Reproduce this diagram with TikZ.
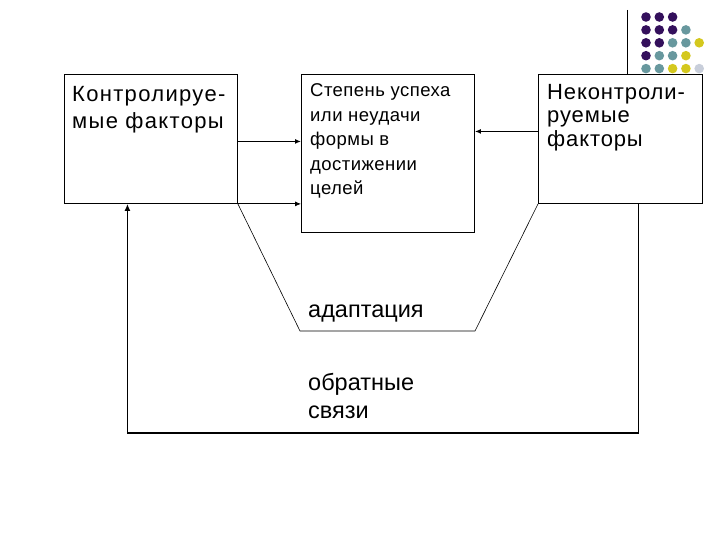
\documentclass[tikz,border=0pt]{standalone}
\usepackage{fontspec}
\setmainfont{Liberation Sans}
\usetikzlibrary{arrows.meta}
\definecolor{dpurp}{RGB}{52,16,92}
\definecolor{dteal}{RGB}{104,152,158}
\definecolor{dyel}{RGB}{212,200,30}
\definecolor{dgrey}{RGB}{200,206,218}
\tikzset{
  boxst/.style={draw=black, line width=0.9pt, inner sep=0, anchor=north west},
  txt/.style={anchor=base west, inner sep=0, text=black},
  arr/.style={line width=1.2pt, -{Latex[length=6pt,width=5pt]}},
  thin arr/.style={line width=0.8pt, -{Latex[length=6pt,width=5pt]}},
  trap/.style={line width=0.6pt},
  fb/.style={line width=1.6pt, -{Latex[length=7pt,width=6pt]}},
  dot/.style={circle, inner sep=0, minimum size=9.6pt},
}
\begin{document}
\begin{tikzpicture}[x=1pt, y=-1pt]
\useasboundingbox (0,0) rectangle (720,540);
% boxes
\node[boxst, minimum width=173pt, minimum height=129pt] (L) at (64,74) {};
\node[boxst, minimum width=173pt, minimum height=158pt] (M) at (301,74) {};
\node[boxst, minimum width=164pt, minimum height=129pt] (R) at (538,74) {};
% texts
\node[txt, font=\fontsize{22}{27}\selectfont\addfontfeature{LetterSpace=6}] (Lt) at (72,102)
  {\vtop{\hbox{Контролируе-}\hbox{мые факторы}}};
\node[txt, font=\fontsize{18.5}{24.5}\selectfont\addfontfeature{LetterSpace=2.5}] (Mt) at (310,97)
  {\vtop{\hbox{Степень успеха}\hbox{или неудачи}\hbox{формы в}\hbox{достижении}\hbox{целей}}};
\node[txt, font=\fontsize{22}{23.5}\selectfont\addfontfeature{LetterSpace=4}] (Rt) at (547,99.5)
  {\vtop{\hbox{Неконтроли-}\hbox{руемые}\hbox{факторы}}};
\node[txt, font=\fontsize{23.5}{28}\selectfont] (At) at (308,317) {адаптация};
\node[txt, font=\fontsize{23.5}{28}\selectfont] (Ot) at (308,390)
  {\vtop{\hbox{обратные}\hbox{связи}}};
% connectors
\draw[arr] ([yshift=-2.5pt]L.east) -- ([yshift=-2.5pt]L.east -| M.west);
\draw[thin arr] (L.south east) -- (L.south east -| M.west);
\draw[arr] ([yshift=7.5pt]R.west) -- ([yshift=7.5pt]R.west -| M.east);
\coordinate (A) at (300,331);
\coordinate (B) at (475,331);
\draw[trap] (L.south east) -- (A) -- (B) -- (R.south west);
\coordinate (fbot) at (400,433);
\draw[fb] ([xshift=18pt]R.south) |- (fbot) -| ([xshift=-23.5pt]L.south);
% decoration
\coordinate (dtop) at (627,10);
\draw[line width=0.9pt] (dtop) -- (dtop |- R.north);
\foreach \c/\r/\col in {0/0/dpurp,1/0/dpurp,2/0/dpurp,
  0/1/dpurp,1/1/dpurp,2/1/dpurp,3/1/dteal,
  0/2/dpurp,1/2/dpurp,2/2/dteal,3/2/dteal,4/2/dyel,
  0/3/dpurp,1/3/dteal,2/3/dteal,3/3/dyel,
  0/4/dteal,1/4/dteal,2/4/dyel,3/4/dyel,4/4/dgrey}
  \node[dot, fill=\col] (d\c\r) at (646+13.3*\c, 17+12.9*\r) {};
\end{tikzpicture}
\end{document}
